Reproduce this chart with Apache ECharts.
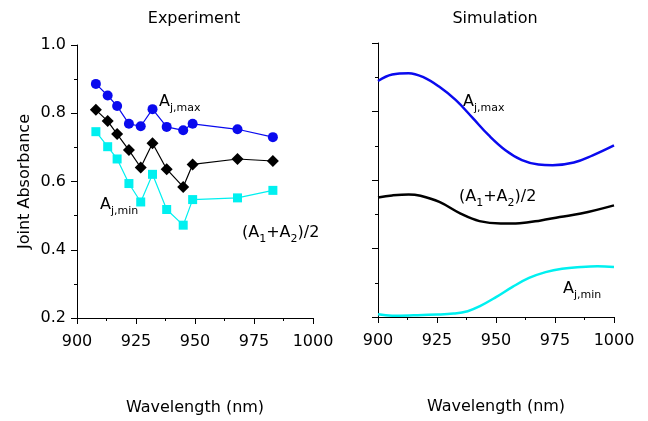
<!DOCTYPE html>
<html>
<head>
<meta charset="utf-8">
<script src="https://cdn.jsdelivr.net/npm/echarts@6/dist/echarts.min.js"></script>
<style>
html,body{margin:0;padding:0;background:#fff;}
#chart{width:648px;height:421px;}
</style>
</head>
<body>
<div id="chart"></div>
<script>
// ---- Experiment data ----
const expWavelength = [908, 913, 917, 922, 927, 932, 938, 945, 949, 968, 983];
const expAjMax = [0.886, 0.852, 0.821, 0.769, 0.762, 0.812, 0.760, 0.750, 0.769, 0.753, 0.730];
const expAvg   = [0.810, 0.777, 0.739, 0.692, 0.641, 0.712, 0.636, 0.584, 0.650, 0.666, 0.660];
const expAjMin = [0.746, 0.702, 0.666, 0.594, 0.540, 0.621, 0.518, 0.472, 0.547, 0.552, 0.574];

// ---- Simulation data ----
const simMaxWl = [900, 906, 913, 919, 926, 933, 940, 947, 954, 961, 968, 974, 983, 991, 1000];
const simMax   = [0.889, 0.908, 0.912, 0.901, 0.872, 0.833, 0.782, 0.730, 0.687, 0.658, 0.645, 0.643, 0.651, 0.672, 0.701];
const simAvgWl = [900, 906, 913, 918, 926, 935, 943, 952, 960, 969, 977, 986, 1000];
const simAvg   = [0.549, 0.555, 0.558, 0.554, 0.536, 0.502, 0.480, 0.473, 0.474, 0.482, 0.492, 0.502, 0.526];
const simMinWl = [900, 906, 915, 925, 932, 938, 943, 950, 957, 964, 971, 978, 986, 993, 1000];
const simMin   = [0.208, 0.204, 0.205, 0.207, 0.210, 0.217, 0.231, 0.258, 0.288, 0.314, 0.331, 0.341, 0.346, 0.348, 0.346];

// ---- Axis / text ----
const xTicks = {min: 900, max: 1000, interval: 25};
const yTicks = {min: 0.2, max: 1.0, interval: 0.2};
const panelTitles = ['Experiment', 'Simulation'];
const xAxisName = 'Wavelength (nm)';
const yAxisName = 'Joint Absorbance';

const FONT = 'DejaVu Sans';
const BLUE = '#0a0aee';
const CYAN = '#00f0f0';
const BLACK = '#000000';

function pairs(xs, ys) { return xs.map((x, i) => [x, ys[i]]); }

function xAxisCfg(gridIndex) {
  return {
    type: 'value', gridIndex: gridIndex,
    min: xTicks.min, max: xTicks.max, interval: xTicks.interval,
    name: xAxisName, nameLocation: 'middle', nameGap: 82,
    nameTextStyle: {fontFamily: FONT, fontSize: 16, color: '#000'},
    axisLine: {show: true, onZero: false, lineStyle: {color: '#000', width: 1}},
    axisTick: {show: true, inside: false, length: 6, lineStyle: {color: '#000'}},
    minorTick: {show: true, splitNumber: 2, length: 3, lineStyle: {color: '#000'}},
    axisLabel: {fontFamily: FONT, fontSize: 16, color: '#000', margin: 16,
      formatter: v => String(v)},
    splitLine: {show: false}, minorSplitLine: {show: false}
  };
}
function yAxisCfg(gridIndex, showLabels) {
  return {
    type: 'value', gridIndex: gridIndex,
    min: yTicks.min, max: yTicks.max, interval: yTicks.interval,
    name: showLabels ? yAxisName : '', nameLocation: 'middle', nameGap: 44,
    nameTextStyle: {fontFamily: FONT, fontSize: 16, color: '#000'},
    axisLine: {show: true, onZero: false, lineStyle: {color: '#000', width: 1}},
    axisTick: {show: true, inside: false, length: 6, lineStyle: {color: '#000'}},
    minorTick: {show: true, splitNumber: 2, length: 3, lineStyle: {color: '#000'}},
    axisLabel: {show: showLabels, fontFamily: FONT, fontSize: 16, color: '#000', margin: 11,
      formatter: v => v.toFixed(1)},
    splitLine: {show: false}, minorSplitLine: {show: false}
  };
}

const richStyles = {
  a: {fontFamily: FONT, fontSize: 16, color: '#000', lineHeight: 24},
  s: {fontFamily: FONT, fontSize: 11, color: '#000', verticalAlign: 'bottom'}
};
function label(x, y, text) {
  return {type: 'text', x: x, y: y, silent: true,
    style: {text: text, rich: richStyles, align: 'left', verticalAlign: 'top', fill: '#000'}};
}

const chart = echarts.init(document.getElementById('chart'), null, {renderer: 'canvas'});
chart.setOption({
  backgroundColor: '#fff',
  animation: false,
  title: [
    {text: panelTitles[0], left: 189, top: 6, textAlign: 'center',
      textStyle: {fontFamily: FONT, fontSize: 16, fontWeight: 'normal', color: '#000'}},
    {text: panelTitles[1], left: 490, top: 6, textAlign: 'center',
      textStyle: {fontFamily: FONT, fontSize: 16, fontWeight: 'normal', color: '#000'}}
  ],
  grid: [
    {left: 77, top: 45, width: 236, height: 273, containLabel: false},
    {left: 378, top: 43, width: 236, height: 274, containLabel: false}
  ],
  xAxis: [xAxisCfg(0), xAxisCfg(1)],
  yAxis: [yAxisCfg(0, true), yAxisCfg(1, false)],
  series: [
    {type: 'line', name: 'Aj,max exp', xAxisIndex: 0, yAxisIndex: 0, data: pairs(expWavelength, expAjMax),
      symbol: 'circle', symbolSize: 10, itemStyle: {color: BLUE}, lineStyle: {color: BLUE, width: 1.2}},
    {type: 'line', name: 'avg exp', xAxisIndex: 0, yAxisIndex: 0, data: pairs(expWavelength, expAvg),
      symbol: 'diamond', symbolSize: 12, itemStyle: {color: BLACK}, lineStyle: {color: BLACK, width: 1.2}},
    {type: 'line', name: 'Aj,min exp', xAxisIndex: 0, yAxisIndex: 0, data: pairs(expWavelength, expAjMin),
      symbol: 'rect', symbolSize: 9, itemStyle: {color: CYAN}, lineStyle: {color: CYAN, width: 1.2}},
    {type: 'line', name: 'Aj,max sim', xAxisIndex: 1, yAxisIndex: 1, data: pairs(simMaxWl, simMax),
      showSymbol: false, smooth: 0.4, lineStyle: {color: BLUE, width: 2.5}},
    {type: 'line', name: 'avg sim', xAxisIndex: 1, yAxisIndex: 1, data: pairs(simAvgWl, simAvg),
      showSymbol: false, smooth: 0.4, lineStyle: {color: BLACK, width: 2.5}},
    {type: 'line', name: 'Aj,min sim', xAxisIndex: 1, yAxisIndex: 1, data: pairs(simMinWl, simMin),
      showSymbol: false, smooth: 0.4, lineStyle: {color: CYAN, width: 2.5}}
  ],
  graphic: [
    label(159, 90, '{a|A}{s|j,max}'),
    label(100, 193, '{a|A}{s|j,min}'),
    label(242, 221, '{a|(A}{s|1}{a|+A}{s|2}{a|)/2}'),
    label(463, 90, '{a|A}{s|j,max}'),
    label(459, 185, '{a|(A}{s|1}{a|+A}{s|2}{a|)/2}'),
    label(563, 277, '{a|A}{s|j,min}')
  ]
});
</script>
</body>
</html>
